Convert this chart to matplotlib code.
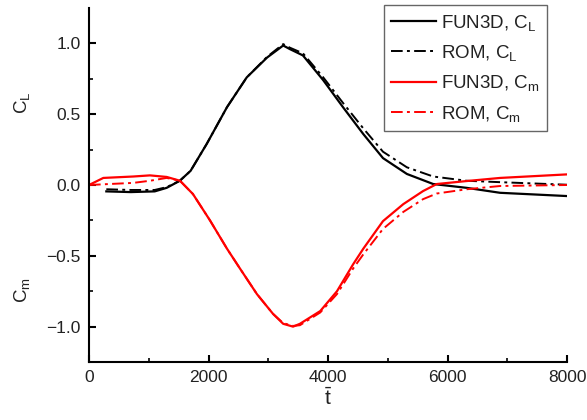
import matplotlib
matplotlib.use("Agg")
import matplotlib.pyplot as plt

plt.rcParams['font.family'] = ['Liberation Sans', 'DejaVu Sans']
plt.rcParams['mathtext.fontset'] = 'custom'
plt.rcParams['mathtext.rm'] = 'Liberation Sans'
plt.rcParams['mathtext.it'] = 'Liberation Sans:italic'

# lift coefficient
t_cl = [290, 700, 1100, 1300, 1520, 1700, 1970, 2310, 2640, 2980, 3250, 3360, 3580,
        3920, 4250, 4590, 4920, 5320, 5760, 6320, 6880, 8000]
cl_fun3d = [-0.045, -0.05, -0.045, -0.02, 0.03, 0.1, 0.29, 0.55, 0.76, 0.90, 0.985, 0.96, 0.915,
            0.74, 0.55, 0.36, 0.19, 0.078, 0.007, -0.02, -0.055, -0.078]
cl_rom = [-0.03, -0.035, -0.035, -0.015, 0.03, 0.1, 0.29, 0.55, 0.76, 0.905, 0.995, 0.97, 0.93,
          0.76, 0.58, 0.40, 0.235, 0.125, 0.06, 0.03, 0.02, 0.002]

# pitching moment coefficient
t_cm = [0, 240, 740, 1020, 1300, 1523, 1740, 2025, 2310, 2527, 2810, 3080, 3250, 3415,
        3530, 3870, 4150, 4420, 4590, 4920, 5260, 5590, 5820, 6320, 6880, 8000]
cm_fun3d = [0.0, 0.05, 0.06, 0.068, 0.057, 0.03, -0.064, -0.25, -0.45, -0.59, -0.77, -0.91, -0.98, -1.0,
            -0.98, -0.89, -0.75, -0.56, -0.45, -0.255, -0.135, -0.043, 0.007, 0.028, 0.05, 0.075]
cm_rom = [0.0, 0.005, 0.015, 0.03, 0.05, 0.03, -0.064, -0.25, -0.45, -0.59, -0.77, -0.91, -0.975, -0.995,
          -0.99, -0.90, -0.77, -0.59, -0.49, -0.31, -0.19, -0.10, -0.06, -0.03, -0.007, 0.0]

fig = plt.figure(figsize=(5.87, 4.2), dpi=100)
ax = fig.add_axes([0.1516, 0.138, 0.8144, 0.843])

dashdot = (0, (6, 2.2, 1.5, 2.2))
ax.plot(t_cl, cl_fun3d, color='black', lw=1.6, label=r'FUN3D, C$_\mathregular{L}$')
ax.plot(t_cl, cl_rom, color='black', lw=1.4, ls=dashdot, label=r'ROM, C$_\mathregular{L}$')
ax.plot(t_cm, cm_fun3d, color='red', lw=1.6, label=r'FUN3D, C$_\mathregular{m}$')
ax.plot(t_cm, cm_rom, color='red', lw=1.4, ls=dashdot, label=r'ROM, C$_\mathregular{m}$')

ax.set_xlim(0, 8000)
ax.set_ylim(-1.25, 1.25)
ax.set_xticks([0, 2000, 4000, 6000, 8000])
ax.set_xticks([1000, 3000, 5000, 7000], minor=True)
ax.set_yticks([-1.0, -0.5, 0.0, 0.5, 1.0])
ax.set_yticklabels(['\u22121.0', '\u22120.5', '0.0', '0.5', '1.0'])
ax.set_yticks([-0.75, -0.25, 0.25, 0.75], minor=True)
ax.tick_params(which='major', direction='in', length=5, width=1.5, labelsize=12.5, pad=6,
               labelcolor='#222222')
ax.tick_params(which='minor', direction='in', length=3, width=1.2)
ax.spines['top'].set_visible(False)
ax.spines['right'].set_visible(False)
ax.spines['left'].set_linewidth(1.5)
ax.spines['bottom'].set_linewidth(1.5)

fig.text(0.037, 0.755, r'C$_\mathregular{L}$', rotation=90, fontsize=13.5, ha='center', va='center',
         color='#222222')
fig.text(0.037, 0.31, r'C$_\mathregular{m}$', rotation=90, fontsize=13.5, ha='center', va='center',
         color='#222222')
ax.set_xlabel(r'$\bar{\mathregular{t}}$', fontsize=15, labelpad=1, color='#222222')

leg = ax.legend(loc='upper right', bbox_to_anchor=(0.958, 1.008), borderaxespad=0, fontsize=13.5,
                fancybox=False, edgecolor='#666666', handlelength=2.4, handletextpad=0.25,
                borderpad=0.4, labelspacing=0.55, framealpha=1, labelcolor='#222222')
leg.get_frame().set_linewidth(1.0)

fig.savefig('out.png', dpi=100)
